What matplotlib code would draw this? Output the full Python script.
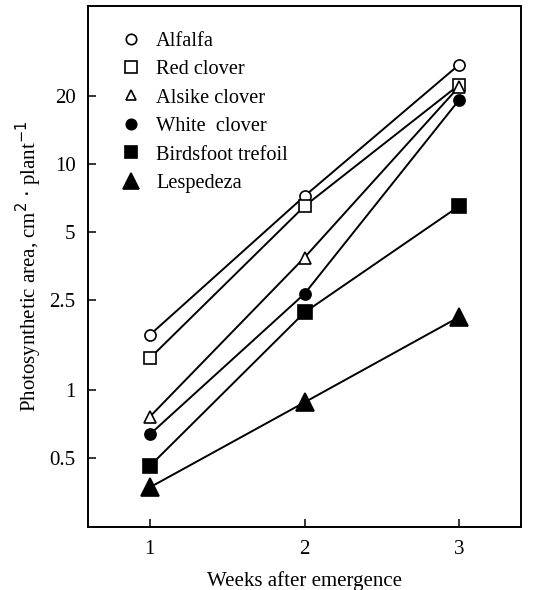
import matplotlib
matplotlib.use("Agg")
import matplotlib.pyplot as plt
from matplotlib.ticker import FixedLocator, NullLocator

weeks = [1, 2, 3]
species = ["Alfalfa", "Red clover", "Alsike clover", "White  clover",
           "Birdsfoot trefoil", "Lespedeza"]
alfalfa = [1.75, 7.2, 27.5]
red_clover = [1.38, 6.5, 22.4]
alsike_clover = [0.76, 3.85, 22.0]
white_clover = [0.635, 2.66, 19.2]
birdsfoot = [0.46, 2.2, 6.5]
lespedeza = [0.37, 0.88, 2.1]
yticks = [0.5, 1, 2.5, 5, 10, 20]
ytick_labels = ["0.5", "1", "2.5", "5", "10", "20"]

plt.rcParams["font.family"] = ["Liberation Serif", "DejaVu Serif"]

fig = plt.figure(figsize=(5.35, 5.9), dpi=100)
ax = fig.add_axes([88 / 535, 63 / 590, 433 / 535, 521 / 590])

styles = [
    dict(marker="o", mfc="white", ms=8),
    dict(marker="s", mfc="white", ms=9),
    dict(marker="^", mfc="white", ms=8),
    dict(marker="o", mfc="black", ms=8),
    dict(marker="s", mfc="black", ms=10),
    dict(marker="^", mfc="black", ms=13),
]
legend_ms = [7.5, 8.5, 6.5, 7.5, 9, 12]
series = [alfalfa, red_clover, alsike_clover, white_clover, birdsfoot, lespedeza]

for vals, name, st in zip(series, species, styles):
    ax.plot(weeks, vals, color="black", lw=1.4, mec="black", mew=1.2, **st)

ax.set_yscale("log")
ax.set_xlim(0.6, 3.4)
ax.set_ylim(0.247, 50)
ax.yaxis.set_major_locator(FixedLocator(yticks))
ax.yaxis.set_minor_locator(NullLocator())
ax.set_yticklabels(ytick_labels)
ax.set_xticks(weeks)
ax.tick_params(direction="in", length=6, width=1.1, labelsize=15)
ax.tick_params(axis="y", pad=9)
ax.tick_params(axis="x", pad=9)
for s in ax.spines.values():
    s.set_linewidth(1.4)

ax.set_xlabel("Weeks after emergence", fontsize=15, labelpad=9)
ax.set_ylabel(r"Photosynthetic area, cm$^{2}$ $\cdot$ plant$^{-1}$", fontsize=15, labelpad=4)

handles = []
for name, st, lm in zip(species, styles, legend_ms):
    h, = ax.plot([], [], ls="none", color="black", mec="black", mew=1.2,
                 marker=st["marker"], mfc=st["mfc"], ms=lm, label=name)
    handles.append(h)
ax.legend(handles=handles, loc="upper left", bbox_to_anchor=(0.058, 0.967),
          frameon=False, fontsize=14.7, handletextpad=0.7, labelspacing=0.45,
          handlelength=1.0, borderaxespad=0)

fig.savefig("out.png", dpi=100)
